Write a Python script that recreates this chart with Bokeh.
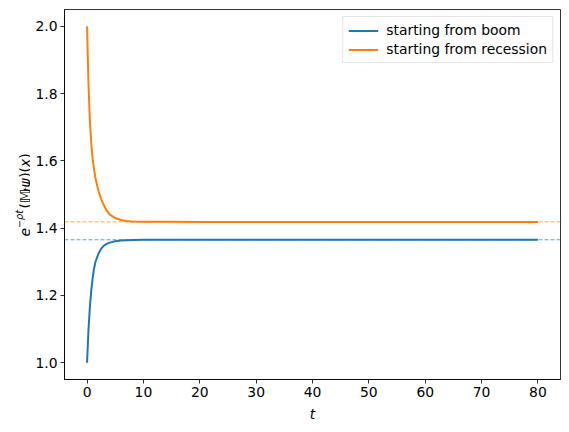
import math
from bokeh.plotting import figure
from bokeh.layouts import row
from bokeh.models import (Span, FixedTicker, Legend, LegendItem, Range1d,
                          CustomJSTickFormatter)
from bokeh.core.properties import value
from bokeh.embed import file_html
from bokeh.resources import INLINE

# ---- data ----
t_vals = [0, 0.25, 0.5, 0.75, 1, 1.25, 1.5, 2, 2.5, 3, 3.5, 4, 5, 6, 7, 8, 10,
          15, 20, 30, 40, 50, 60, 70, 80]
boom = [1.000, 1.095, 1.165, 1.215, 1.252, 1.281, 1.300, 1.323, 1.339, 1.348,
        1.353, 1.357, 1.361, 1.3632, 1.3643, 1.3648, 1.3652, 1.3654, 1.3654,
        1.3654, 1.3654, 1.3654, 1.3654, 1.3654, 1.3654]
recession = [2.000, 1.830, 1.720, 1.650, 1.605, 1.575, 1.548, 1.512, 1.487,
             1.467, 1.452, 1.441, 1.430, 1.424, 1.421, 1.4198, 1.4190, 1.4187,
             1.4186, 1.4186, 1.4186, 1.4186, 1.4186, 1.4186, 1.4186]
boom_limit = 1.3654
recession_limit = 1.4186
x_ticks = [0, 10, 20, 30, 40, 50, 60, 70, 80]
y_ticks = [1.0, 1.2, 1.4, 1.6, 1.8, 2.0]
labels = ["starting from boom", "starting from recession"]
colors = ["#1f77b4", "#ff7f0e"]

FONT = "DejaVu Sans"
FS = "13.9px"
LABEL_W = 30
Y_LO, Y_HI = 0.95, 2.05

p = figure(width=569 - LABEL_W, height=432, output_backend="svg",
           toolbar_location=None,
           x_range=Range1d(-4, 84), y_range=Range1d(Y_LO, Y_HI),
           min_border_left=64 - LABEL_W, min_border_right=9, min_border_top=9,
           min_border_bottom=53)
p.background_fill_color = "white"
p.border_fill_color = "white"
p.outline_line_color = "black"
p.outline_line_width = 0.8
p.xgrid.visible = False
p.ygrid.visible = False

for ax in (p.xaxis[0], p.yaxis[0]):
    ax.axis_line_color = "black"
    ax.axis_line_width = 0.8
    ax.major_tick_line_color = "black"
    ax.major_tick_line_width = 0.8
    ax.major_tick_out = 4
    ax.major_tick_in = 0
    ax.minor_tick_line_color = None
    ax.major_label_text_font = FONT
    ax.major_label_text_font_size = FS
    ax.major_label_text_color = "black"
    ax.major_label_standoff = 3
    ax.axis_label_text_font = FONT
    ax.axis_label_text_font_size = FS
    ax.axis_label_text_color = "black"

p.xaxis[0].ticker = FixedTicker(ticks=x_ticks)
p.yaxis[0].ticker = FixedTicker(ticks=y_ticks)
p.yaxis[0].formatter = CustomJSTickFormatter(code="return tick.toFixed(1);")
p.xaxis[0].axis_label = "t"
p.xaxis[0].axis_label_text_font_style = "italic"
p.xaxis[0].axis_label_standoff = 6

r1 = p.line(t_vals, boom, line_color=colors[0], line_width=2, line_join="round")
r2 = p.line(t_vals, recession, line_color=colors[1], line_width=2, line_join="round")

for loc, c in ((boom_limit, colors[0]), (recession_limit, colors[1])):
    p.add_layout(Span(location=loc, dimension="width", line_color=c,
                      line_alpha=0.7, line_width=1, line_dash="4 2"))

legend = Legend(items=[LegendItem(label=labels[0], renderers=[r1]),
                       LegendItem(label=labels[1], renderers=[r2])],
                location="top_right")
legend.label_text_font = FONT
legend.label_text_font_size = FS
legend.label_text_color = "black"
legend.border_line_color = "#cccccc"
legend.border_line_width = 1
legend.background_fill_alpha = 0.8
legend.margin = 7
legend.padding = 5
legend.glyph_width = 30
legend.glyph_height = 15
legend.label_standoff = 8
legend.spacing = 3
p.add_layout(legend)

# ---- y axis label e^{-ρt} (𝕄_t ψ)(x): a narrow strip left of the plot ----
# (its frame is aligned with the main plot's frame by the row layout)
q = figure(width=LABEL_W, height=432, output_backend="svg", toolbar_location=None,
           x_range=Range1d(0, LABEL_W), y_range=Range1d(Y_LO, Y_HI),
           min_border_left=0, min_border_right=0, min_border_top=9,
           min_border_bottom=53, x_axis_type=None, y_axis_type=None)
q.outline_line_color = None
q.xgrid.visible = False
q.ygrid.visible = False
q.background_fill_color = "white"
q.border_fill_color = "white"

px_per_unit = 370 / (Y_HI - Y_LO)
total_len = 84.0
y_center = (Y_LO + Y_HI) / 2
base_x = 24          # baseline position (pixels from the left)
pieces = [
    ("e", 13.9, "italic", 0, 8.5),
    ("\u2212\u03c1t", 9.7, "italic", -5.5, 19.5),
    ("(", 13.9, "normal", 0, 5.4),
    ("\U0001D544", 13.9, "normal", 0, 11.5),
    ("t", 9.7, "italic", 2.5, 4.2),
    ("\u03c8", 13.9, "italic", 0, 9.6),
    (")(", 13.9, "normal", 0, 10.8),
    ("x", 13.9, "italic", 0, 8.2),
    (")", 13.9, "normal", 0, 5.4),
]
pos = 0.0
for txt, size, style, dx, w in pieces:
    q.text(x=[base_x + dx],
           y=[y_center + (pos - total_len / 2) / px_per_unit], text=[txt],
           angle=math.pi / 2, text_align="left", text_baseline="alphabetic",
           text_font=value(FONT), text_font_size=value(f"{size}px"),
           text_font_style=value(style), text_color="black")
    pos += w

layout = row(q, p, spacing=0)
open("out.html", "w").write(file_html(layout, INLINE))
